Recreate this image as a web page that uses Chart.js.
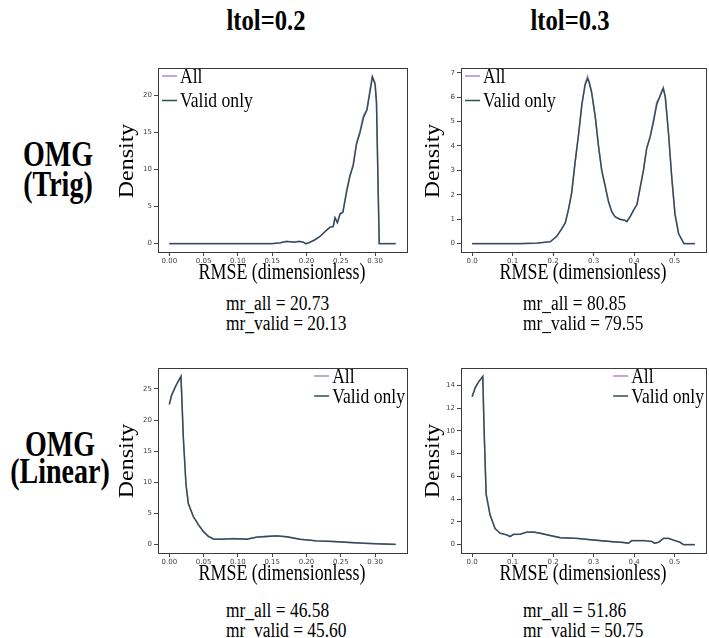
<!DOCTYPE html>
<html>
<head>
<meta charset="utf-8">
<title>RMSE density</title>
<script src="https://cdn.jsdelivr.net/npm/chart.js@4.4.1/dist/chart.umd.min.js"></script>
<style>
  body { margin: 0; background: #fff; }
  #page { position: relative; width: 709px; height: 638px; overflow: hidden;
          font-family: "Liberation Serif", "Times New Roman", serif; color: #000; }
  #page canvas { position: absolute; }
  .lbl { position: absolute; white-space: nowrap; }
  .head { font-weight: bold; font-size: 30px; line-height: 1; transform: translate(-50%, -50%) scaleX(0.82); }
  .row { font-weight: bold; font-size: 35px; text-align: center; transform: translate(-50%, -50%) scaleX(0.8); }
  .xt { font-size: 23px; line-height: 1; transform: translate(-50%, -50%) scaleX(0.78); }
  .yt { font-size: 24px; line-height: 1; transform: translate(-50%, -50%) rotate(-90deg) scaleY(0.9); }
  .mr { font-size: 20px; transform: scaleX(0.87); transform-origin: 0 0; }
</style>
</head>
<body>
<div id="page">
  <div class="lbl head" style="left:266px; top:20px">ltol=0.2</div>
  <div class="lbl head" style="left:570px; top:20px">ltol=0.3</div>
  <div class="lbl row" style="left:58px; top:170px; line-height:30px">OMG<br>(Trig)</div>
  <div class="lbl row" style="left:60px; top:458px; line-height:27px">OMG<br>(Linear)</div>

  <canvas id="trig02" width="310" height="230" style="left:100px; top:55px"></canvas>
  <canvas id="trig03" width="303" height="230" style="left:406px; top:55px"></canvas>
  <canvas id="lin02" width="310" height="231" style="left:100px; top:355px"></canvas>
  <canvas id="lin03" width="303" height="231" style="left:406px; top:355px"></canvas>

  <div class="lbl yt" style="left:126px; top:161px">Density</div>
  <div class="lbl yt" style="left:432px; top:161px">Density</div>
  <div class="lbl yt" style="left:126px; top:461px">Density</div>
  <div class="lbl yt" style="left:432px; top:461px">Density</div>

  <div class="lbl xt" style="left:282px; top:271px">RMSE (dimensionless)</div>
  <div class="lbl xt" style="left:583px; top:271px">RMSE (dimensionless)</div>
  <div class="lbl xt" style="left:282px; top:572px">RMSE (dimensionless)</div>
  <div class="lbl xt" style="left:583px; top:572px">RMSE (dimensionless)</div>

  <div class="lbl mr" id="mr_trig02" style="left:226px; top:293px; line-height:20px"></div>
  <div class="lbl mr" id="mr_trig03" style="left:523px; top:293px; line-height:20px"></div>
  <div class="lbl mr" id="mr_lin02" style="left:226px; top:601px; line-height:19.5px"></div>
  <div class="lbl mr" id="mr_lin03" style="left:523px; top:601px; line-height:19.5px"></div>
</div>

<script>
// OMG (Trig), ltol=0.2
const trig02_x = [0, 0.05, 0.10, 0.15, 0.161, 0.171, 0.181, 0.190, 0.195, 0.199, 0.203, 0.212, 0.220,
  0.229, 0.234, 0.239, 0.2415, 0.245, 0.249, 0.253, 0.2585, 0.263, 0.268, 0.273, 0.278, 0.283,
  0.288, 0.2925, 0.296, 0.300, 0.302, 0.306, 0.33];
const trig02_all = [0, 0, 0, 0, 0.1, 0.3, 0.2, 0.3, 0.2, 0.0, 0.1, 0.5, 1.0,
  1.8, 2.2, 2.4, 3.5, 2.9, 4.1, 4.3, 7.2, 9.1, 10.7, 13.6, 15.2, 17.3,
  18.1, 20.7, 22.6, 21.7, 19.3, 0, 0];
const trig02_valid = [0, 0, 0, 0, 0.1, 0.3, 0.2, 0.3, 0.2, 0.0, 0.1, 0.5, 1.0,
  1.8, 2.2, 2.3, 3.5, 2.8, 4.0, 4.2, 7.0, 9.0, 10.5, 13.5, 15.0, 17.0,
  18.0, 20.5, 22.5, 21.5, 19.0, 0, 0];

// OMG (Trig), ltol=0.3
const trig03_x = [0, 0.119, 0.160, 0.193, 0.209, 0.221, 0.230, 0.238, 0.246, 0.254, 0.263, 0.271,
  0.279, 0.285, 0.289, 0.295, 0.304, 0.312, 0.320, 0.328, 0.337, 0.345, 0.353, 0.365, 0.378,
  0.382, 0.390, 0.398, 0.407, 0.415, 0.423, 0.431, 0.440, 0.448, 0.456, 0.463, 0.468, 0.472,
  0.477, 0.485, 0.493, 0.501, 0.510, 0.523, 0.55];
const trig03_all = [0, 0, 0.02, 0.08, 0.3, 0.6, 0.86, 1.4, 2.1, 3.3, 4.5, 5.7,
  6.55, 6.85, 6.65, 6.2, 5.2, 4.0, 3.0, 2.4, 1.7, 1.3, 1.1, 1.0, 0.95,
  0.92, 1.1, 1.35, 1.6, 2.3, 3.0, 3.9, 4.4, 5.1, 5.8, 6.0, 6.25, 6.4,
  6.0, 4.5, 2.7, 1.2, 0.4, 0, 0];
const trig03_valid = [0, 0, 0.02, 0.08, 0.3, 0.6, 0.85, 1.4, 2.1, 3.3, 4.5, 5.7,
  6.5, 6.75, 6.6, 6.2, 5.2, 4.0, 3.0, 2.4, 1.7, 1.3, 1.1, 1.0, 0.95,
  0.9, 1.1, 1.35, 1.6, 2.3, 3.0, 3.9, 4.4, 5.0, 5.7, 6.0, 6.2, 6.35,
  6.0, 4.5, 2.7, 1.2, 0.4, 0, 0];

// OMG (Linear), ltol=0.2
const lin02_x = [0, 0.0034, 0.0097, 0.017, 0.0205, 0.0243, 0.0277, 0.035, 0.0423, 0.0496, 0.0569,
  0.0641, 0.0739, 0.0933, 0.1127, 0.1273, 0.1419, 0.1565, 0.171, 0.1905, 0.2148, 0.239,
  0.2634, 0.2877, 0.312, 0.33];
const lin02_all = [22.5, 24.0, 25.6, 27.0, 17.2, 9.7, 6.6, 4.5, 3.2, 2.1, 1.35,
  0.9, 0.85, 0.95, 0.87, 1.2, 1.32, 1.4, 1.25, 0.87, 0.6, 0.5,
  0.33, 0.2, 0.1, 0.03];
const lin02_valid = [22.5, 24.0, 25.5, 27.0, 17.0, 9.6, 6.6, 4.5, 3.2, 2.1, 1.3,
  0.9, 0.85, 0.95, 0.85, 1.2, 1.3, 1.4, 1.25, 0.85, 0.6, 0.5,
  0.33, 0.2, 0.1, 0.03];

// OMG (Linear), ltol=0.3
const lin03_x = [0, 0.0074, 0.0156, 0.0263, 0.0296, 0.0346, 0.0444, 0.0568, 0.0691, 0.0856, 0.0938,
  0.102, 0.1185, 0.135, 0.1514, 0.168, 0.1926, 0.2173, 0.2584, 0.2996, 0.3407, 0.3737,
  0.386, 0.3942, 0.423, 0.4436, 0.4502, 0.46, 0.4724, 0.4848, 0.4971, 0.5136, 0.5218, 0.55];
const lin03_all = [13.0, 13.8, 14.3, 14.8, 10.1, 4.5, 2.6, 1.4, 1.0, 0.85, 0.72,
  0.9, 0.92, 1.1, 1.12, 1.0, 0.8, 0.62, 0.55, 0.4, 0.27, 0.18,
  0.12, 0.35, 0.36, 0.28, 0.12, 0.2, 0.56, 0.55, 0.4, 0.2, 0.0, 0.0];
const lin03_valid = [13.0, 13.8, 14.3, 14.8, 10.0, 4.4, 2.6, 1.4, 1.0, 0.85, 0.7,
  0.9, 0.9, 1.1, 1.1, 1.0, 0.8, 0.6, 0.55, 0.4, 0.27, 0.18,
  0.12, 0.35, 0.35, 0.28, 0.12, 0.2, 0.55, 0.55, 0.4, 0.2, 0.0, 0.0];

const seriesNames = ['All', 'Valid only'];
const seriesColors = ['#a98bd0', '#2f4f4f'];

const mrText = {
  mr_trig02: ['mr_all = 20.73', 'mr_valid = 20.13'],
  mr_trig03: ['mr_all = 80.85', 'mr_valid = 79.55'],
  mr_lin02: ['mr_all = 46.58', 'mr_valid = 45.60'],
  mr_lin03: ['mr_all = 51.86', 'mr_valid = 50.75']
};

// box around the plotting area (all four spines)
const framePlugin = {
  id: 'frame',
  afterDatasetsDraw(chart) {
    const { ctx, chartArea: a } = chart;
    ctx.save();
    ctx.strokeStyle = '#3a3a3a';
    ctx.lineWidth = 1;
    ctx.strokeRect(Math.round(a.left) + 0.5, Math.round(a.top) + 0.5,
      Math.round(a.width), Math.round(a.height));
    ctx.restore();
  }
};

// legend drawn inside the plot, in the top-left or top-right corner;
// the serif labels are squeezed a little horizontally
const LEGEND_SQUEEZE = 0.8;
const insideLegend = {
  id: 'insideLegend',
  afterDatasetsDraw(chart, args, opts) {
    const { ctx, chartArea: a } = chart;
    const sets = chart.data.datasets;
    ctx.save();
    ctx.font = '22px "Liberation Serif"';
    ctx.textBaseline = 'middle';
    const textW = LEGEND_SQUEEZE * Math.max(...sets.map(d => ctx.measureText(d.label).width));
    const x0 = opts.align === 'right' ? a.right - 2 - textW - 18 : a.left + 4;
    sets.forEach((d, i) => {
      const y = a.top + opts.top + i * opts.rowHeight;
      ctx.strokeStyle = d.borderColor;
      ctx.lineWidth = 1.5;
      ctx.beginPath();
      ctx.moveTo(x0, y);
      ctx.lineTo(x0 + 15, y);
      ctx.stroke();
      ctx.save();
      ctx.translate(x0 + 18, y + 1);
      ctx.scale(LEGEND_SQUEEZE, 1);
      ctx.fillStyle = '#000';
      ctx.fillText(d.label, 0, 0);
      ctx.restore();
    });
    ctx.restore();
  }
};

function densityChart(id, xs, all, valid, o) {
  const xMax = Math.max(...xs);
  const yMax = Math.max(...all, ...valid);
  const pts = ys => xs.map((x, i) => ({ x: x, y: ys[i] }));
  const tickFont = { family: 'DejaVu Sans', size: 7 };
  return new Chart(document.getElementById(id), {
    type: 'line',
    data: {
      datasets: [
        { label: seriesNames[0], data: pts(all), borderColor: seriesColors[0], borderWidth: 1.6, order: 2 },
        { label: seriesNames[1], data: pts(valid), borderColor: seriesColors[1], borderWidth: 1.4, order: 1 }
      ]
    },
    options: {
      responsive: false,
      animation: false,
      devicePixelRatio: 1,
      events: [],
      layout: { padding: { top: 13, right: 3, left: 0, bottom: 0 } },
      elements: { point: { radius: 0 }, line: { tension: 0 } },
      plugins: {
        legend: { display: false },
        tooltip: { enabled: false },
        insideLegend: o.legend
      },
      scales: {
        x: {
          type: 'linear',
          min: -0.05 * xMax,
          max: 1.05 * xMax,
          afterFit: s => { s.height = 33; },
          border: { display: false },
          grid: { drawOnChartArea: false, tickLength: 4, color: '#444' },
          ticks: {
            stepSize: o.xStep, includeBounds: false, autoSkip: false, maxRotation: 0,
            padding: 1, color: '#444', font: tickFont,
            callback: v => v.toFixed(o.xDec)
          }
        },
        y: {
          type: 'linear',
          min: -0.05 * yMax,
          max: 1.05 * yMax,
          afterFit: s => { s.width = o.yWidth; },
          border: { display: false },
          grid: { drawOnChartArea: false, tickLength: 4, color: '#444' },
          ticks: {
            stepSize: o.yStep, includeBounds: false, autoSkip: false,
            padding: 2, color: '#444', font: tickFont,
            callback: v => v.toFixed(0)
          }
        }
      }
    },
    plugins: [framePlugin, insideLegend]
  });
}

const topLegend = { align: 'left', top: 8, rowHeight: 24.5 };
const bottomLegend = { align: 'right', top: 8, rowHeight: 20 };

densityChart('trig02', trig02_x, trig02_all, trig02_valid,
  { xStep: 0.05, xDec: 2, yStep: 5, yWidth: 58, legend: topLegend });
densityChart('trig03', trig03_x, trig03_all, trig03_valid,
  { xStep: 0.1, xDec: 1, yStep: 1, yWidth: 55, legend: topLegend });
densityChart('lin02', lin02_x, lin02_all, lin02_valid,
  { xStep: 0.05, xDec: 2, yStep: 5, yWidth: 58, legend: bottomLegend });
densityChart('lin03', lin03_x, lin03_all, lin03_valid,
  { xStep: 0.1, xDec: 1, yStep: 2, yWidth: 55, legend: bottomLegend });

Object.keys(mrText).forEach(id => {
  document.getElementById(id).innerHTML = mrText[id].join('<br>');
});
</script>
</body>
</html>
